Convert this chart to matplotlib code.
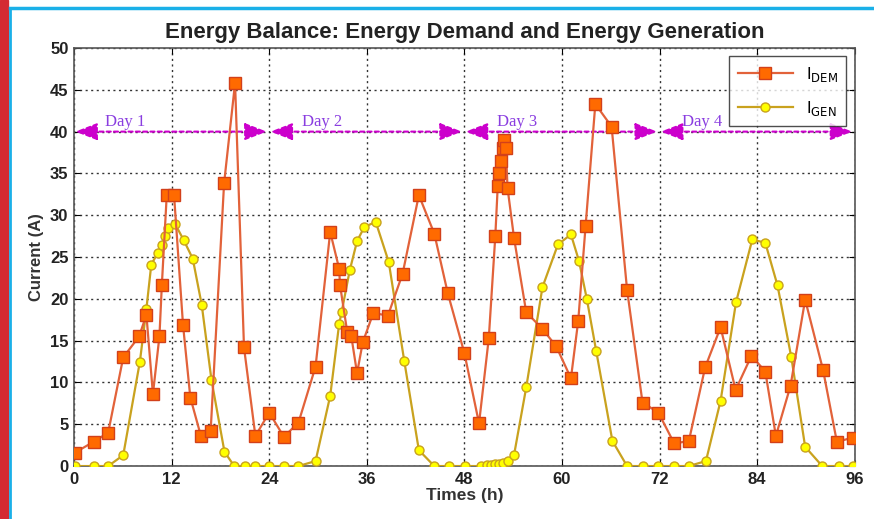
import numpy as np
import matplotlib
matplotlib.use("Agg")
import matplotlib.pyplot as plt
from matplotlib.lines import Line2D

# demand current (time in h, current in A)
dem_t = [0.1, 2.4, 4.2, 6.05, 8.0, 8.9, 9.7, 10.5, 10.8, 11.4, 12.3, 13.4, 14.3, 15.6, 16.8,
         18.45, 19.8, 20.9, 22.3, 24.0, 25.8, 27.6, 29.7, 31.5, 32.6, 32.7, 33.6, 34.1, 34.8, 35.5,
         36.8, 38.6, 40.4, 42.4, 44.3, 45.95, 48.0, 49.8, 51.0, 51.8, 52.1, 52.3, 52.5, 52.7, 52.9,
         53.1, 53.3, 54.1, 55.6, 57.6, 59.3, 61.1, 62.0, 62.9, 64.1, 66.1, 68.0, 69.9, 71.85, 73.8,
         75.6, 77.6, 79.5, 81.35, 83.3, 85.0, 86.3, 88.1, 89.9, 92.1, 93.8, 95.75]
dem_a = [1.6, 2.9, 4.0, 13.0, 15.5, 18.1, 8.6, 15.5, 21.7, 32.4, 32.4, 16.9, 8.2, 3.6, 4.2,
         33.8, 45.8, 14.2, 3.6, 6.4, 3.5, 5.2, 11.9, 28.0, 23.6, 21.7, 16.0, 15.5, 11.1, 14.8,
         18.3, 18.0, 23.0, 32.4, 27.8, 20.7, 13.5, 5.1, 15.3, 27.5, 33.5, 35.0, 36.5, 38.0, 39.0,
         38.0, 33.3, 27.3, 18.4, 16.4, 14.3, 10.5, 17.4, 28.7, 43.3, 40.6, 21.1, 7.6, 6.4, 2.7,
         3.0, 11.8, 16.6, 9.1, 13.2, 11.3, 3.6, 9.6, 19.9, 11.5, 2.9, 3.4]

# generated current
gen_t = [0.1, 2.4, 4.2, 6.05, 8.1, 8.9, 9.5, 10.3, 10.8, 11.2, 11.6, 12.4, 13.5, 14.6, 15.7,
         16.9, 18.5, 19.7, 21.0, 22.3, 24.0, 25.8, 27.6, 29.7, 31.5, 32.6, 32.9, 33.9, 34.8, 35.7,
         37.1, 38.7, 40.6, 42.4, 44.3, 46.1, 48.1, 50.0, 50.8, 51.3, 51.8, 52.3, 52.8, 53.3, 54.1,
         55.6, 57.6, 59.5, 61.1, 62.1, 63.05, 64.2, 66.2, 68.0, 69.9, 71.85, 73.8, 75.6, 77.7, 79.5,
         81.4, 83.4, 85.0, 86.5, 88.2, 89.9, 92.0, 94.0, 95.8]
gen_a = [0, 0, 0, 1.3, 12.5, 18.8, 24.1, 25.5, 26.4, 27.5, 28.5, 29.0, 27.0, 24.8, 19.3,
         10.3, 1.7, 0, 0, 0, 0, 0, 0, 0.6, 8.4, 17.0, 18.4, 23.4, 26.9, 28.6,
         29.2, 24.4, 12.6, 1.9, 0, 0, 0, 0, 0.1, 0.15, 0.2, 0.3, 0.4, 0.6, 1.3,
         9.4, 21.4, 26.5, 27.7, 24.5, 20.0, 13.8, 3.0, 0, 0, 0, 0, 0, 0.6, 7.8,
         19.6, 27.1, 26.7, 21.6, 13.0, 2.3, 0, 0, 0]

day_edges = [0, 24, 48, 72, 96]
day_names = ["Day 1", "Day 2", "Day 3", "Day 4"]
day_label_x = [3.8, 28.0, 52.0, 74.8]
day_level = 40

plt.rcParams['font.family'] = ['Liberation Sans', 'DejaVu Sans']

fig = plt.figure(figsize=(8.74, 5.19), dpi=100)
ax = fig.add_axes([0.0847, 0.102, 0.8933, 0.8055])

# page decoration: red bar and cyan frame lines
fig.patches.append(plt.Rectangle((0, 0), 8 / 874, 1, transform=fig.transFigure,
                                 color='#d42a32', zorder=0))
fig.add_artist(Line2D([9.5 / 874, 9.5 / 874], [0, 1 - 8 / 519], transform=fig.transFigure,
                      color='#1ab0e8', lw=2))
fig.add_artist(Line2D([9.5 / 874, 1], [1 - 8 / 519, 1 - 8 / 519], transform=fig.transFigure,
                      color='#1ab0e8', lw=2.5))

ax.plot(dem_t, dem_a, color='#e2623a', lw=1.6, marker='s', ms=8.5,
        mfc='#ff6a00', mec='#d2401a', mew=1.0, label=r'I$_{\mathrm{DEM}}$', zorder=4)
ax.plot(gen_t, gen_a, color='#c9a21e', lw=1.6, marker='o', ms=6.5,
        mfc='#ffff00', mec='#c9a21e', mew=1.0, label=r'I$_{\mathrm{GEN}}$', zorder=3)

# day arrows
for i in range(4):
    a, b = day_edges[i], day_edges[i + 1]
    ax.annotate('', xy=(a + 0.15, day_level), xytext=(b - 0.3, day_level),
                arrowprops=dict(arrowstyle='<|-|>,head_length=0.9,head_width=0.35',
                                mutation_scale=15, color='#cc00cc', lw=1.5,
                                ls=(0, (2, 1.5)), shrinkA=0, shrinkB=0), zorder=2)
    ax.text(day_label_x[i], day_level + 0.2, day_names[i], family='Liberation Serif',
            fontsize=12, color='#8a3ee0', va='bottom', ha='left', zorder=2)

ax.set_xlim(0, 96)
ax.set_ylim(0, 50)
ax.set_xticks(range(0, 97, 12))
ax.set_yticks(range(0, 51, 5))
ax.grid(True, color='#333333', ls=(0, (1.5, 2.5)), lw=1.0)
ax.tick_params(direction='in', top=True, right=True, labelsize=12, labelcolor='#222222',
               length=4, pad=4)
for lab in ax.get_xticklabels() + ax.get_yticklabels():
    lab.set_fontweight('bold')
for s in ax.spines.values():
    s.set_color('#555555')
    s.set_linewidth(1.2)

ax.set_title('Energy Balance: Energy Demand and Energy Generation', fontsize=16,
             fontweight='bold', color='#222222', pad=7)
ax.set_xlabel('Times (h)', fontsize=12.5, fontweight='bold', color='#333333', labelpad=1)
ax.set_ylabel('Current (A)', fontsize=12, fontweight='bold', color='#333333', labelpad=4)

leg = ax.legend(loc='upper right', fontsize=12, handlelength=3.3, frameon=True,
                fancybox=False, borderaxespad=0.5, labelspacing=0.9, borderpad=0.5)
leg.get_frame().set_edgecolor('#222222')
leg.get_frame().set_linewidth(1.0)
leg.set_zorder(10)

fig.savefig('out.png', dpi=100)
